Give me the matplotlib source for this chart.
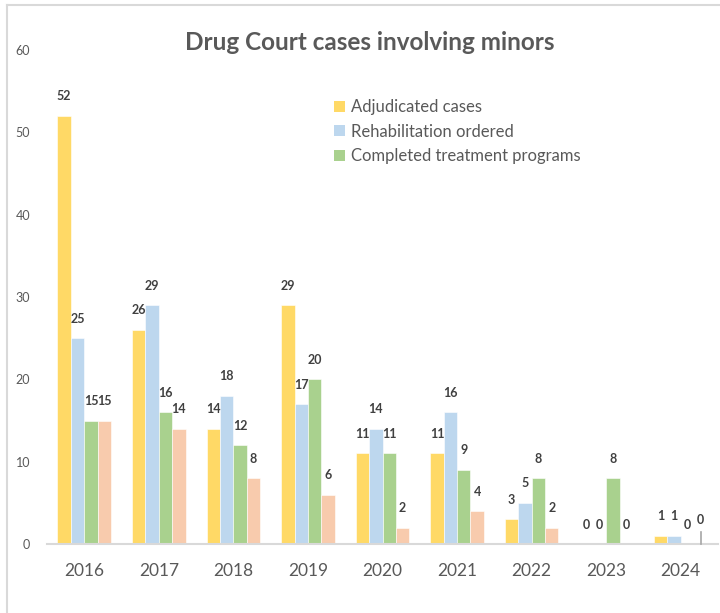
import matplotlib
matplotlib.use("Agg")
import matplotlib.pyplot as plt
import numpy as np
from matplotlib.lines import Line2D
from matplotlib.patches import Patch

years = ["2016", "2017", "2018", "2019", "2020", "2021", "2022", "2023", "2024"]
adjudicated = [52, 26, 14, 29, 11, 11, 3, 0, 1]
rehab = [25, 29, 18, 17, 14, 16, 5, 0, 1]
completed = [15, 16, 12, 20, 11, 9, 8, 8, 0]
other = [15, 14, 8, 6, 2, 4, 2, 0, 0]

series_names = ["Adjudicated cases", "Rehabilitation ordered", "Completed treatment programs"]
colors = ["#FFD966", "#BDD7EE", "#A9D18E", "#F8CBAD"]

plt.rcParams["font.family"] = ["Lato", "DejaVu Sans"]

fig = plt.figure(figsize=(7.2, 6.13), dpi=100)
ax = fig.add_axes([47 / 720, (613 - 544) / 613, 671 / 720, 494 / 613])

x = np.arange(len(years))
w = 0.18
all_series = [adjudicated, rehab, completed, other]
for i, (vals, c) in enumerate(zip(all_series, colors)):
	pos = x + (i - 1.5) * w
	ax.bar(pos, vals, width=w, color=c, edgecolor="white", linewidth=0.4, zorder=2)
	for j, (px, v) in enumerate(zip(pos, vals)):
		dy = 14
		if i == 3 and j == len(years) - 1 and v == 0:
			# leader line for the empty last bar
			ax.plot([px, px], [0, 1.4], color="#A6A6A6", lw=1.2, zorder=3, clip_on=False)
			dy = 17
		ax.annotate(str(v), (px, v), xytext=(0, dy), textcoords="offset points",
			ha="center", va="center", fontsize=9, fontweight="bold", color="#404040")

ax.set_xlim(-0.5, len(years) - 0.5)
ax.set_ylim(0, 60)
ax.set_yticks(range(0, 61, 10))
ax.set_xticks(x)
ax.set_xticklabels(years)
for s in ["top", "right", "left"]:
	ax.spines[s].set_visible(False)
ax.spines["bottom"].set_color("#D9D9D9")
ax.spines["bottom"].set_linewidth(1.5)
ax.tick_params(axis="x", length=0, pad=14, labelsize=12.5, labelcolor="#595959")
ax.tick_params(axis="y", length=0, pad=12, labelsize=9, labelcolor="#595959")

fig.text(370 / 720, 1 - 42 / 613, "Drug Court cases involving minors", ha="center", va="center",
	fontsize=17.5, fontweight="bold", color="#595959")

handles = [Patch(facecolor=c, edgecolor="none") for c in colors[:3]]
ax.legend(handles, series_names, loc="upper left", bbox_to_anchor=(326 / 720, 1 - 91 / 613),
	bbox_transform=fig.transFigure, frameon=False, fontsize=12, labelcolor="#595959",
	handlelength=0.65, handleheight=0.65, handletextpad=0.35, labelspacing=0.5, borderpad=0)

# outer chart border (top and left)
fig.add_artist(Line2D([7 / 720, 1], [1 - 5 / 613, 1 - 5 / 613], color="#D9D9D9", lw=1.5))
fig.add_artist(Line2D([7 / 720, 7 / 720], [0, 1 - 5 / 613], color="#D9D9D9", lw=1.5))

fig.savefig("out.png", dpi=100)
